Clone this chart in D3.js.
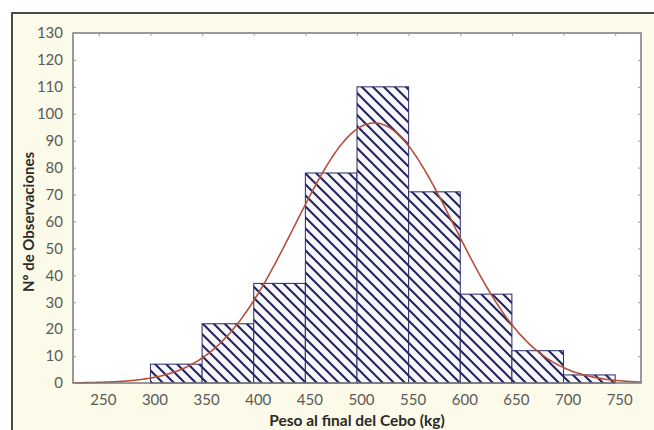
<!DOCTYPE html>
<html>
<head>
<meta charset="utf-8">
<script src="https://cdn.jsdelivr.net/npm/d3@7"></script>
<style>
  html, body { margin: 0; padding: 0; background: #ffffff; }
  svg { display: block; }
</style>
</head>
<body>
<svg id="chart" width="654" height="430"></svg>
<script>
// Histogram bins (kg) and observed counts
const binStarts = [300, 350, 400, 450, 500, 550, 600, 650, 700];
const binWidth = 50;
const counts = [7, 22, 37, 78, 110, 71, 33, 12, 3];
const xTicks = [250, 300, 350, 400, 450, 500, 550, 600, 650, 700, 750];
const yTicks = [0, 10, 20, 30, 40, 50, 60, 70, 80, 90, 100, 110, 120, 130];

const svg = d3.select("#chart");
const W = 654, H = 430;
const plot = { left: 73, right: 641, top: 33, bottom: 383 };

// Framed cream background
svg.append("rect").attr("x", 12).attr("y", 13).attr("width", W).attr("height", H)
  .attr("fill", "#fcfae8");
svg.append("path").attr("d", `M12,${H} L12,13 L${W},13`)
  .attr("fill", "none").attr("stroke", "#4a4a4a").attr("stroke-width", 2);

// Plot area
svg.append("rect").attr("x", plot.left).attr("y", plot.top)
  .attr("width", plot.right - plot.left).attr("height", plot.bottom - plot.top)
  .attr("fill", "#ffffff");

const x = d3.scaleLinear().domain([225, 775]).range([plot.left, plot.right]);
const y = d3.scaleLinear().domain([0, 130]).range([plot.bottom, plot.top]);

// Diagonal hatching for the bars
const hs = 11;
const defs = svg.append("defs");
const pat = defs.append("pattern").attr("id", "hatch")
  .attr("patternUnits", "userSpaceOnUse").attr("width", hs).attr("height", hs);
pat.append("rect").attr("width", hs).attr("height", hs).attr("fill", "#f7f7fc");
pat.append("path").attr("d", `M-1,-1 L${hs + 1},${hs + 1} M-1,${hs - 1} L1,${hs + 1} M${hs - 1},-1 L${hs + 1},1`)
  .attr("stroke", "#23235e").attr("stroke-width", 2);

const bins = binStarts.map((s, i) => ({ x0: s, x1: s + binWidth, n: counts[i] }));

svg.append("g").selectAll("rect").data(bins).join("rect")
  .attr("x", d => x(d.x0))
  .attr("y", d => y(d.n))
  .attr("width", d => x(d.x1) - x(d.x0))
  .attr("height", d => y(0) - y(d.n))
  .attr("fill", "url(#hatch)")
  .attr("stroke", "#2a2a66")
  .attr("stroke-width", 1);

// Fitted normal curve from the histogram's mean and standard deviation
const total = d3.sum(counts);
const mean = d3.sum(bins, d => (d.x0 + binWidth / 2) * d.n) / total;
const sd = Math.sqrt(d3.sum(bins, d => Math.pow(d.x0 + binWidth / 2 - mean, 2) * d.n) / total);
const pdf = v => total * binWidth * Math.exp(-0.5 * Math.pow((v - mean) / sd, 2)) / (sd * Math.sqrt(2 * Math.PI));
const curveX = d3.range(225, 775.1, 2);

svg.append("path")
  .datum(curveX)
  .attr("d", d3.line().x(v => x(v)).y(v => y(pdf(v))).curve(d3.curveBasis))
  .attr("fill", "none")
  .attr("stroke", "#b5503a")
  .attr("stroke-width", 1.6);

// Plot frame
svg.append("rect").attr("x", plot.left).attr("y", plot.top)
  .attr("width", plot.right - plot.left).attr("height", plot.bottom - plot.top)
  .attr("fill", "none").attr("stroke", "#7a7a7a").attr("stroke-width", 1.5);

// Axes
const tickFont = "Lato, 'Open Sans', sans-serif";

const yAxis = svg.append("g").attr("transform", `translate(${plot.left},0)`)
  .call(d3.axisLeft(y).tickValues(yTicks).tickSizeInner(-3).tickSizeOuter(0).tickPadding(10));
yAxis.select(".domain").remove();
yAxis.selectAll("line").attr("stroke", "#999");
yAxis.selectAll("text").attr("font-family", tickFont).attr("font-size", 15)
  .attr("fill", "#5a5a5a");

const yAxisR = svg.append("g").attr("transform", `translate(${plot.right},0)`)
  .call(d3.axisRight(y).tickValues(yTicks).tickSizeInner(-3).tickSizeOuter(0).tickFormat(""));
yAxisR.select(".domain").remove();
yAxisR.selectAll("line").attr("stroke", "#999");

const xAxis = svg.append("g").attr("transform", `translate(0,${plot.bottom})`)
  .call(d3.axisBottom(x).tickValues(xTicks).tickSize(0).tickPadding(11));
xAxis.select(".domain").remove();
xAxis.selectAll("text").attr("font-family", tickFont).attr("font-size", 15)
  .attr("fill", "#5a5a5a").attr("dx", 4);

const xAxisT = svg.append("g").attr("transform", `translate(0,${plot.top})`)
  .call(d3.axisTop(x).tickValues(xTicks).tickSizeInner(-3).tickSizeOuter(0).tickFormat(""));
xAxisT.select(".domain").remove();
xAxisT.selectAll("line").attr("stroke", "#999");

// Axis titles
svg.append("text")
  .attr("x", 357).attr("y", 426)
  .attr("text-anchor", "middle")
  .attr("font-family", tickFont).attr("font-weight", "bold").attr("font-size", 15.5)
  .attr("fill", "#2a2a2a")
  .text("Peso al final del Cebo (kg)");

svg.append("text")
  .attr("transform", "translate(34,222) rotate(-90)")
  .attr("text-anchor", "middle")
  .attr("font-family", tickFont).attr("font-weight", "bold").attr("font-size", 15)
  .attr("fill", "#2a2a2a")
  .text("Nº de Observaciones");
</script>
</body>
</html>
